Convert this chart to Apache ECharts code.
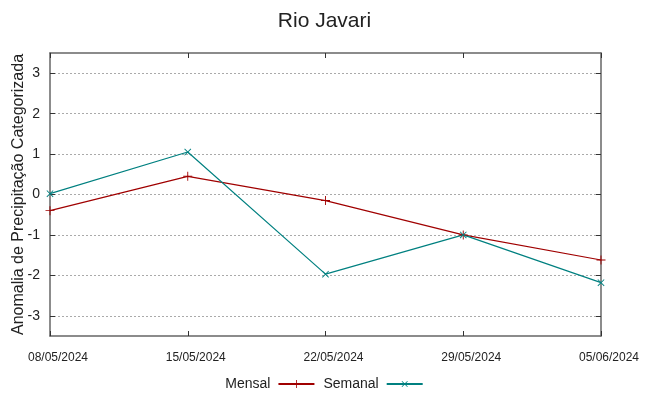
<!DOCTYPE html>
<html>
<head>
<meta charset="utf-8">
<script src="https://cdn.jsdelivr.net/npm/echarts@6/dist/echarts.min.js"></script>
<style>
html, body { margin: 0; padding: 0; background: #fff; }
#container { width: 649px; height: 396px; }
</style>
</head>
<body>
<div id="container"></div>
<script type="text/javascript">
var dates = ['08/05/2024', '15/05/2024', '22/05/2024', '29/05/2024', '05/06/2024'];
var mensal = [-0.40, 0.45, -0.15, -1.00, -1.62];
var semanal = [0.02, 1.05, -1.97, -1.00, -2.18];
var yTicks = [-3, -2, -1, 0, 1, 2, 3];

var plusPath = 'path://M4.5,0h1v10h-1z M0,4.5h10v1h-10z';
var font = 'Liberation Sans, Arial, sans-serif';
var axisColor = '#666';

var dom = document.getElementById('container');
var myChart = echarts.init(dom, null, { renderer: 'canvas' });
var option = {
    animation: false,
    backgroundColor: '#fff',
    title: {
        text: 'Rio Javari',
        left: 'center',
        top: 6,
        textStyle: { fontFamily: font, fontSize: 21, fontWeight: 'normal', color: '#222' }
    },
    legend: {
        bottom: 0,
        left: 'center',
        align: 'right',
        itemWidth: 36,
        itemHeight: 10,
        itemGap: 8,
        textStyle: { fontFamily: font, fontSize: 14, color: '#222', padding: [0, 3, 0, 0] },
        data: ['Mensal', 'Semanal']
    },
    grid: { left: 50, right: 48, top: 53, bottom: 60, containLabel: false, outerBoundsMode: 'none' },
    xAxis: [
        {
            type: 'category',
            data: dates,
            boundaryGap: false,
            axisLine: { onZero: false, lineStyle: { color: axisColor, width: 1.5 } },
            axisTick: { inside: true, length: 5, lineStyle: { color: '#333' } },
            axisLabel: { fontFamily: font, fontSize: 12, color: '#222', margin: 16, padding: [0, 0, 0, 16], showMinLabel: true, showMaxLabel: true, interval: 0 },
            splitLine: { show: false }
        },
        {
            type: 'category',
            data: dates,
            position: 'top',
            boundaryGap: false,
            axisLine: { onZero: false, lineStyle: { color: axisColor, width: 1.5 } },
            axisTick: { inside: true, length: 5, lineStyle: { color: '#333' } },
            axisLabel: { show: false },
            splitLine: { show: false }
        }
    ],
    yAxis: [
        {
            type: 'value',
            min: -3.5,
            max: 3.5,
            name: 'Anomalia de Precipitação Categorizada',
            nameLocation: 'middle',
            nameGap: 23,
            nameMoveOverlap: false,
            nameTextStyle: { fontFamily: font, fontSize: 16, color: '#222' },
            axisLine: { show: true, onZero: false, lineStyle: { color: axisColor, width: 1.5 } },
            axisTick: { show: true, inside: true, length: 5, customValues: yTicks, lineStyle: { color: '#333' } },
            axisLabel: { fontFamily: font, fontSize: 14, color: '#222', margin: 10, customValues: yTicks },
            splitLine: { show: true, lineStyle: { color: '#aaa', type: [2, 2], width: 1 } }
        },
        {
            type: 'value',
            min: -3.5,
            max: 3.5,
            position: 'right',
            axisLine: { show: true, onZero: false, lineStyle: { color: axisColor, width: 1.5 } },
            axisTick: { show: true, inside: true, length: 5, customValues: yTicks, lineStyle: { color: '#333' } },
            axisLabel: { show: false },
            splitLine: { show: false }
        }
    ],
    series: [
        {
            name: 'Mensal',
            type: 'line',
            data: mensal,
            symbol: plusPath,
            symbolSize: 9,
            lineStyle: { color: '#a00000', width: 1.2 },
            itemStyle: { color: '#a00000' }
        },
        {
            name: 'Semanal',
            type: 'line',
            data: semanal,
            symbol: plusPath,
            symbolSize: 9,
            symbolRotate: 45,
            lineStyle: { color: '#008080', width: 1.2 },
            itemStyle: { color: '#008080' }
        }
    ]
};
myChart.setOption(option, true);
</script>
</body>
</html>
